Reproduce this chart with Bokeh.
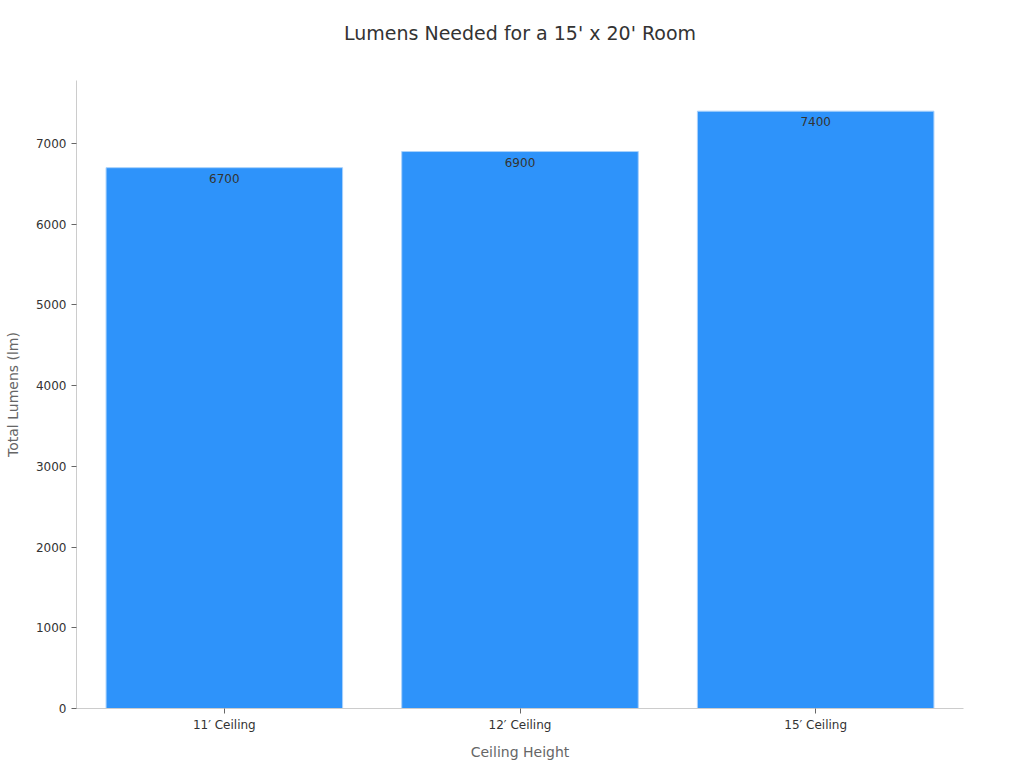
from bokeh.embed import file_html
from bokeh.core.properties import value
from bokeh.models import ColumnDataSource, Range1d, SingleIntervalTicker, Title
from bokeh.plotting import figure
from bokeh.resources import INLINE

categories = ["11\u2032 Ceiling", "12\u2032 Ceiling", "15\u2032 Ceiling"]
lumens = [6700, 6900, 7400]
labels = [str(v) for v in lumens]
title_text = "Lumens Needed for a 15' x 20' Room"

FONT = "DejaVu Sans"

source = ColumnDataSource(data=dict(cat=categories, val=lumens, lab=labels))

p = figure(x_range=categories, y_range=Range1d(0, 7780), width=1008, height=764,
           toolbar_location=None, output_backend="svg",
           min_border_left=76, min_border_right=45,
           min_border_top=80, min_border_bottom=56)
p.x_range.range_padding = 0

p.vbar(x="cat", top="val", width=0.8, source=source, fill_color="#2E93FA",
       line_color="#a9d1fb", line_width=1)
p.text(x="cat", y="val", text="lab", source=source, text_align="center",
       text_baseline="top", y_offset=6, text_font=value(FONT),
       text_font_size="12px", text_color="#333333")

# empty title first, as a spacer between the real title and the frame
p.add_layout(Title(text=" ", text_font_size="20px", standoff=13), "above")
p.add_layout(Title(text=title_text, align="center", text_font=FONT,
                   text_font_size="19px", text_font_style="normal",
                   text_color="#333333", standoff=0), "above")

# axes
p.xaxis.axis_label = "Ceiling Height"
p.yaxis.axis_label = "Total Lumens (lm)"
p.yaxis.ticker = SingleIntervalTicker(interval=1000)
for ax in (p.xaxis, p.yaxis):
    ax.axis_label_text_font = FONT
    ax.axis_label_text_font_size = "14px"
    ax.axis_label_text_font_style = "normal"
    ax.axis_label_text_color = "#666666"
    ax.major_label_text_font = FONT
    ax.major_label_text_font_size = "12px"
    ax.major_label_text_color = "#333333"
    ax.axis_line_color = "#cccccc"
    ax.major_tick_line_color = "#666666"
    ax.major_tick_in = 0
    ax.major_tick_out = 5
    ax.minor_tick_line_color = None
p.xaxis.axis_label_standoff = 9
p.xaxis.major_label_standoff = 4
p.yaxis.axis_label_standoff = 12

p.xgrid.grid_line_color = None
p.ygrid.grid_line_color = None
p.outline_line_color = None

open("out.html", "w").write(file_html(p, INLINE))
